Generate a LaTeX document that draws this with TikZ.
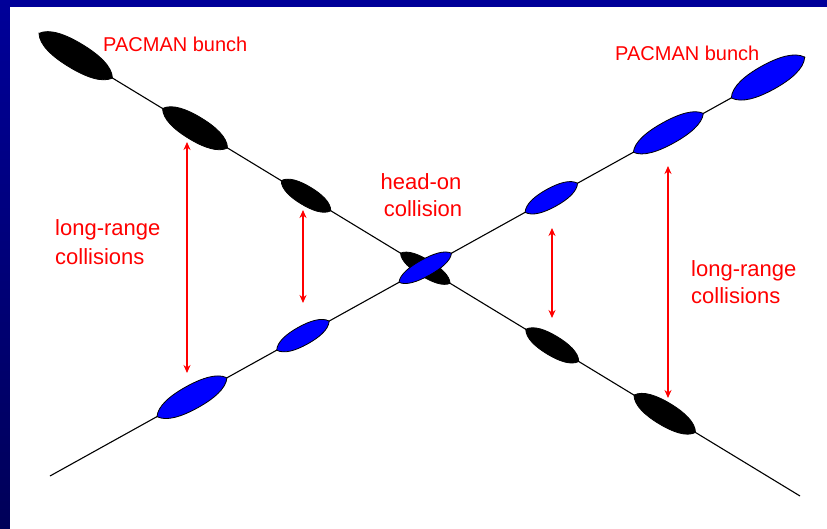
\documentclass[tikz,border=0pt]{standalone}
\usepackage{fontspec}
\setmainfont{Liberation Sans}
\usetikzlibrary{arrows.meta,calc}
\definecolor{frameblue}{HTML}{000099}
\definecolor{framedark}{HTML}{000058}
\definecolor{bunchblue}{HTML}{0000FF}
\definecolor{lblred}{HTML}{FF0000}
\begin{document}
\begin{tikzpicture}[x=1pt,y=-1pt,
  lensL/.store in=\lensL, lensW/.store in=\lensW, lensfill/.store in=\lensfill,
  lens/.pic={\filldraw[line width=0.8pt, draw=black, fill=\lensfill]
     (-\lensL,0) .. controls (-0.85*\lensL,0.75*\lensW) and (-0.45*\lensL,\lensW) .. (0,\lensW)
     .. controls (0.45*\lensL,\lensW) and (0.85*\lensL,0.75*\lensW) .. (\lensL,0)
     .. controls (0.85*\lensL,-0.75*\lensW) and (0.45*\lensL,-\lensW) .. (0,-\lensW)
     .. controls (-0.45*\lensL,-\lensW) and (-0.85*\lensL,-0.75*\lensW) .. cycle;},
  bk/.style={rotate=-31.3, lensfill=black},
  bl/.style={rotate=29, lensfill=bunchblue},
  beam/.style={line width=1.1pt, black},
  rng/.style={draw=lblred, line width=1.5pt, {Stealth[length=8pt,width=7pt]}-{Stealth[length=8pt,width=7pt]}},
  lbl/.style={text=lblred, font=\fontsize{22}{27}\selectfont, inner sep=0pt, anchor=base west},
  pac/.style={text=lblred, font=\fontsize{20}{22}\selectfont, inner sep=0pt, anchor=base west}]
\useasboundingbox (0,0) rectangle (827,529);
\fill[frameblue] (0,0) rectangle (827,529);
\shade[top color=frameblue, bottom color=framedark] (0,0) rectangle (10,529);
\fill[white] (10,7) rectangle (827,529);

% beams
\coordinate (k0) at (40,34);
\coordinate (k1) at (800,496);
\coordinate (b0) at (50,476);
\coordinate (b1) at (805,57);
\draw[beam] (k0) -- (k1);
\draw[beam] (b0) -- (b1);

% black bunches
\pic[bk, lensL=43, lensW=13]  at ($(k0)!0.047!(k1)$) {lens};
\pic[bk, lensL=38, lensW=12]  at ($(k0)!0.204!(k1)$) {lens};
\pic[bk, lensL=29, lensW=9.5] at ($(k0)!0.350!(k1)$) {lens};
\pic[bk, lensL=29, lensW=8.5] at ($(k0)!0.507!(k1)$) {lens};
\pic[bk, lensL=31, lensW=10]  at ($(k0)!0.674!(k1)$) {lens};
\pic[bk, lensL=36, lensW=11.5] at ($(k0)!0.822!(k1)$) {lens};

% blue bunches
\pic[bl, lensL=40, lensW=12]  at ($(b0)!0.188!(b1)$) {lens};
\pic[bl, lensL=30, lensW=9.5] at ($(b0)!0.335!(b1)$) {lens};
\pic[bl, lensL=30, lensW=8.5] at ($(b0)!0.497!(b1)$) {lens};
\pic[bl, lensL=30, lensW=9.5] at ($(b0)!0.664!(b1)$) {lens};
\pic[bl, lensL=40, lensW=11.5] at ($(b0)!0.819!(b1)$) {lens};
\pic[bl, lensL=42, lensW=13]  at ($(b0)!0.951!(b1)$) {lens};

% long-range collision arrows
\coordinate (a1t) at (187,142);
\coordinate (a1b) at (187,373);
\coordinate (a2t) at (303,210);
\coordinate (a2b) at (303,303);
\coordinate (a3t) at (552,228);
\coordinate (a3b) at (552,318);
\coordinate (a4t) at (668,166);
\coordinate (a4b) at (668,398);
\draw[rng] (a1t) -- (a1b);
\draw[rng, line width=2pt] (a2t) -- (a2b);
\draw[rng] (a3t) -- (a3b);
\draw[rng] (a4t) -- (a4b);

% labels
\node[pac] (pacL) at (103,52) {PACMAN bunch};
\node[pac] (pacR) at (615,61) {PACMAN bunch};
\node[lbl, anchor=base] (ho1) at (421,190) {head-on};
\node[lbl, anchor=base] (ho2) at (423,217) {collision};
\node[lbl] (lrL1) at (55,236) {long-range};
\node[lbl] (lrL2) at (55,265) {collisions};
\node[lbl] (lrR1) at (691,277) {long-range};
\node[lbl] (lrR2) at (691,303) {collisions};
\end{tikzpicture}
\end{document}
